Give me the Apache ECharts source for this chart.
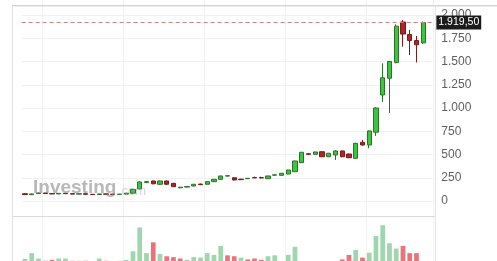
<!DOCTYPE html>
<html><head><meta charset="utf-8">
<script src="https://cdn.jsdelivr.net/npm/echarts@6/dist/echarts.min.js"></script>
<style>html,body{margin:0;padding:0;background:#fff;overflow:hidden}#c{width:497px;height:261px}</style>
</head><body><div id="c"></div>
<script>
// ---- data ----
const categories = ['1','2','3','4','5','6','7','8','9','10','11','12','13','14','15','16','17','18','19','20',
  '21','22','23','24','25','26','27','28','29','30','31','32','33','34','35','36','37','38','39','40',
  '41','42','43','44','45','46','47','48','49','50','51','52','53','54','55','56','57','58','59','60'];
const opens  = [78,68,80,86,80,76,82,79,74,78,72,70,76,73,71,74,84,130,200,215,
  180,215,190,142,150,161,182,180,208,233,268,250,235,240,252,251,240,278,276,290,
  315,412,508,502,530,476,495,538,505,459,631,602,740,1140,1320,1490,1925,1790,1725,1700];
const closes = [70,76,86,80,76,82,79,74,78,72,70,76,73,71,74,84,125,205,208,185,
  215,180,154,148,155,180,176,208,233,269,272,226,230,244,249,248,269,281,298,333,
  430,524,502,527,476,513,538,476,466,620,602,753,1000,1325,1500,1880,1795,1725,1680,1919.5];
const lows   = [66,65,77,78,74,74,77,72,72,70,68,68,71,69,69,72,80,125,192,180,
  175,176,150,138,146,158,172,176,204,230,262,222,227,237,246,245,237,275,274,287,
  312,408,498,499,472,472,441,470,460,455,596,567,700,1065,945,1480,1660,1570,1490,1690];
const highs  = [82,79,89,88,83,84,84,81,80,80,75,78,78,75,76,86,130,212,214,220,
  220,220,194,152,158,183,186,212,236,272,276,254,238,247,262,262,272,284,300,336,
  434,528,512,530,534,517,545,542,510,625,656,760,1008,1480,1505,1900,1945,1840,1775,1930];
const volumes = [9,22,10,5,7,10,10,5,5,5,4,10,5,4,5,7,26,79,22,46,
  20,15,13,10,7,13,12,22,18,38,17,15,12,8,10,7,15,17,4,18,
  36,4,4,4,4,4,4,8,18,29,12,23,60,84,44,32,38,22,22,4];
const volumeUp = [1,1,1,0,0,1,1,0,1,0,0,1,0,0,1,1,1,1,1,0,
  1,0,0,0,1,1,1,1,1,1,0,0,1,0,0,0,1,1,1,1,
  1,1,0,1,0,1,1,0,0,1,0,1,1,1,1,1,0,0,0,1];
const yTickValues = [0,250,500,750,1000,1250,1500,1750,2000];
const yTickLabels = ['0','250','500','750','1.000','1.250','1.500','1.750','2.000'];
const lastPrice = 1919.5;
const lastPriceLabel = '1.919,50';

// ---- build ----
const candleData = opens.map((o, i) => [o, closes[i], lows[i], highs[i]]);
const volData = volumes.map((v, i) => ({value: v, itemStyle: {color: volumeUp[i] ? '#9fd6ad' : '#e8737a'}}));
const cats = categories.concat(['']);

const chart = echarts.init(document.getElementById('c'), null, {renderer: 'canvas'});
const font = "'Liberation Sans', Arial, sans-serif";
const splitColors = ['rgba(0,0,0,0)'].concat(yTickValues.map(() => '#f1f1f1')).concat(['rgba(0,0,0,0)']);

chart.setOption({
  animation: false,
  backgroundColor: '#fff',
  grid: [
    {left: 21.6, width: 411.75, top: -8.25, height: 232.5, containLabel: false, outerBoundsMode: 'none'},
    {left: 21.6, width: 411.75, top: 218, height: 45, containLabel: false, outerBoundsMode: 'none'}
  ],
  xAxis: [
    {type: 'category', gridIndex: 0, data: cats, boundaryGap: true,
     axisLine: {show: false}, axisTick: {show: false}, axisLabel: {show: false},
     splitLine: {show: true, interval: (idx) => idx % 12 === 3, lineStyle: {color: '#f1f1f1', width: 1}}},
    {type: 'category', gridIndex: 1, data: cats, boundaryGap: true,
     axisLine: {show: false}, axisTick: {show: false}, axisLabel: {show: false},
     splitLine: {show: true, interval: (idx) => idx % 12 === 3, lineStyle: {color: '#f3f3f3', width: 1}}}
  ],
  yAxis: [
    {type: 'value', gridIndex: 0, position: 'right', min: -250, max: 2250, interval: 250, scale: false,
     axisLine: {show: false}, axisTick: {show: false},
     axisLabel: {margin: 8, color: '#5f5f5f', fontSize: 12, fontFamily: font,
       showMinLabel: false, showMaxLabel: false,
       formatter: (v) => { const k = yTickValues.indexOf(v); return k < 0 ? '' : yTickLabels[k]; }},
     splitLine: {show: true, lineStyle: {color: splitColors, width: 1}}},
    {type: 'value', gridIndex: 1, min: 0, max: 100, show: false, splitLine: {show: false}}
  ],
  series: [
    {type: 'candlestick', xAxisIndex: 0, yAxisIndex: 0, data: candleData, barWidth: '68%',
     itemStyle: {color: '#3fc43f', color0: '#b3232a', borderColor: '#2a742a', borderColor0: '#7a1a1c', borderWidth: 1},
     markLine: {silent: true, symbol: ['none', 'none'], animation: false,
       data: [{yAxis: lastPrice}],
       lineStyle: {type: [4, 3], color: '#c98585', width: 1},
       label: {show: true, position: 'end', distance: 3, formatter: lastPriceLabel,
         backgroundColor: '#1b1b1b', color: '#fff', fontSize: 10.5, fontFamily: font, padding: [2, 2, 1, 2]}}},
    {type: 'bar', xAxisIndex: 1, yAxisIndex: 1, data: volData, barWidth: '70%'}
  ],
  graphic: [
    {type: 'text', z: 50, silent: true, style: {x: 33, y: 188, text: 'Investing', verticalAlign: 'middle',
      font: "bold 19px 'Liberation Sans', Arial, sans-serif", fill: 'rgba(125,125,125,0.55)'}},
    {type: 'text', z: 50, silent: true, style: {x: 118, y: 191.5, text: '.com', verticalAlign: 'middle',
      font: "13px 'Liberation Sans', Arial, sans-serif", fill: 'rgba(160,160,160,0.45)'}},
    {type: 'line', z: 60, silent: true, shape: {x1: 13, y1: 5.5, x2: 497, y2: 5.5}, style: {stroke: '#d2d2d2', lineWidth: 1}},
    {type: 'line', z: 60, silent: true, shape: {x1: 13, y1: 6.5, x2: 497, y2: 6.5}, style: {stroke: '#eeeeee', lineWidth: 1}},
    {type: 'line', z: 60, silent: true, shape: {x1: 12.5, y1: 5, x2: 12.5, y2: 261}, style: {stroke: '#e0e0e0', lineWidth: 1}},
    {type: 'line', z: 60, silent: true, shape: {x1: 435.5, y1: 5, x2: 435.5, y2: 261}, style: {stroke: '#e4e4e4', lineWidth: 1}},
    {type: 'line', z: 60, silent: true, shape: {x1: 13, y1: 216.5, x2: 435, y2: 216.5}, style: {stroke: '#dadada', lineWidth: 1}}
  ]
});
</script>
</body></html>
